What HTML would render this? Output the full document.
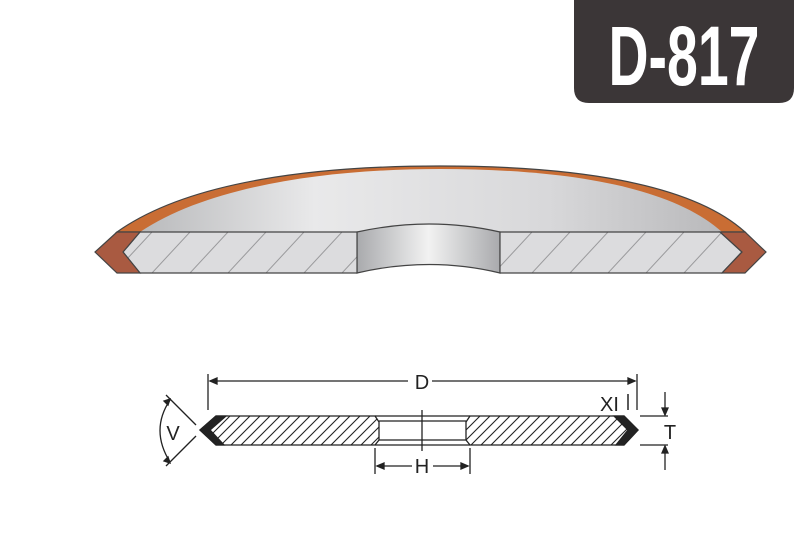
<!DOCTYPE html>
<html><head><meta charset="utf-8"><style>
html,body{margin:0;padding:0;background:#fff;width:800px;height:550px;overflow:hidden}
</style></head><body>
<svg width="800" height="550" viewBox="0 0 800 550" xmlns="http://www.w3.org/2000/svg" font-family="Liberation Sans, sans-serif">
<defs>
<linearGradient id="g1" x1="0" x2="1" y1="0" y2="0">
<stop offset="0" stop-color="#b9babc"/><stop offset="0.3" stop-color="#e9e9ea"/><stop offset="0.7" stop-color="#d8d8da"/><stop offset="1" stop-color="#b9b9bb"/></linearGradient>
<linearGradient id="g2" x1="0" x2="1" y1="0" y2="0">
<stop offset="0" stop-color="#a9aaad"/><stop offset="0.5" stop-color="#f2f2f2"/><stop offset="1" stop-color="#a9aaad"/></linearGradient>
<pattern id="h1" width="38" height="41" patternUnits="userSpaceOnUse" x="0" y="232">
<line x1="0" y1="41" x2="38" y2="0" stroke="#9a9a9c" stroke-width="1"/></pattern>
<pattern id="h2" width="10" height="10" patternUnits="userSpaceOnUse" x="0" y="416">
<path d="M-1 11 L11 -1 M-3 3 L3 -3 M7 13 L13 7" stroke="#222" stroke-width="1.1"/></pattern>
</defs>
<path d="M574 0 H794 V88 Q794 103 779 103 H589 Q574 103 574 88 Z" fill="#3b3637"/>
<text x="684" y="85" font-size="84" font-weight="bold" fill="#fff" text-anchor="middle" transform="translate(684 0) scale(0.66 1) translate(-684 0)">D-817</text>
<!-- top 3D disc -->
<path d="M117 232 C190 180 320 166 440 166 C570 166 690 182 745 232 Z" fill="#c96d34" stroke="#444" stroke-width="1.2"/>
<path d="M140 232 C210 185 330 169 440 169 C560 169 670 185 722 232 Z" fill="url(#g1)"/>
<path d="M357 232 Q430 216 500 232 V273 Q430 256 357 273 Z" fill="url(#g2)" stroke="#444" stroke-width="1.2"/>
<path d="M140 232 H357 V273 H140 L123 252 Z" fill="#dcdcde"/>
<path d="M140 232 H357 V273 H140 L123 252 Z" fill="url(#h1)" stroke="#444" stroke-width="1.2"/>
<path d="M500 232 H720 L742 252 L722 273 H500 Z" fill="#dcdcde"/>
<path d="M500 232 H720 L742 252 L722 273 H500 Z" fill="url(#h1)" stroke="#444" stroke-width="1.2"/>
<path d="M117 232 H140 L123 252 L140 273 H117 L95 252 Z" fill="#a95a41" stroke="#444" stroke-width="1.2"/>
<path d="M720 232 H745 L766 252 L745 273 H722 L742 252 Z" fill="#a95a41" stroke="#444" stroke-width="1.2"/>
<!-- bottom 2D drawing -->
<g stroke="#222" stroke-width="1.3" fill="none">
<line x1="208" y1="374" x2="208" y2="410"/><line x1="637" y1="374" x2="637" y2="410"/>
<line x1="210" y1="381" x2="408" y2="381"/><line x1="432" y1="381" x2="635" y2="381"/>
<path d="M210 381 l7 -3 v6 z M635 381 l-7 -3 v6 z" fill="#222"/>
<path d="M216 416 H375 L379 422 V440 L375 445 H216 L200 430 Z" fill="url(#h2)"/>
<path d="M624 416 H470 L466 422 V440 L470 445 H624 L638 430 Z" fill="url(#h2)"/>
<path d="M375 416 H470 M375 445 H470 M379 421 H466 M379 440 H466"/>
<line x1="422" y1="410" x2="422" y2="451"/>
<path d="M216 416 L200 430 L216 445 L224 445 L210 430 L226 416 Z" fill="#222"/>
<path d="M624 416 L638 430 L624 445 L616 445 L628 430 L614 416 Z" fill="#222"/>
<line x1="375" y1="448" x2="375" y2="474"/><line x1="470" y1="448" x2="470" y2="474"/>
<line x1="377" y1="466" x2="412" y2="466"/><line x1="433" y1="466" x2="468" y2="466"/>
<path d="M377 466 l7 -3 v6 z M468 466 l-7 -3 v6 z" fill="#222"/>
<line x1="640" y1="416" x2="668" y2="416"/><line x1="640" y1="445" x2="668" y2="445"/>
<line x1="665" y1="392" x2="665" y2="414"/><line x1="665" y1="447" x2="665" y2="470"/>
<path d="M665 415 l-3 -7 h6 z M665 446 l-3 7 h6 z" fill="#222"/>
<line x1="166" y1="395" x2="196" y2="425"/><line x1="196" y1="436" x2="166" y2="466"/>
<path d="M170 400 Q150 430 170 462"/>
<path d="M170 399 l-6 2 l4 4 z M170 463 l-6 -2 l4 -4 z" fill="#222"/>
</g>
<g fill="#222" font-size="20">
<text x="422" y="389" text-anchor="middle">D</text>
<text x="422" y="473" text-anchor="middle">H</text>
<text x="173" y="440" text-anchor="middle">V</text>
<text x="670" y="439" text-anchor="middle">T</text>
<text x="600" y="411">XI</text>
</g>
<line x1="628" y1="394" x2="628" y2="410" stroke="#222" stroke-width="1.5"/>
</svg>
</body></html>
